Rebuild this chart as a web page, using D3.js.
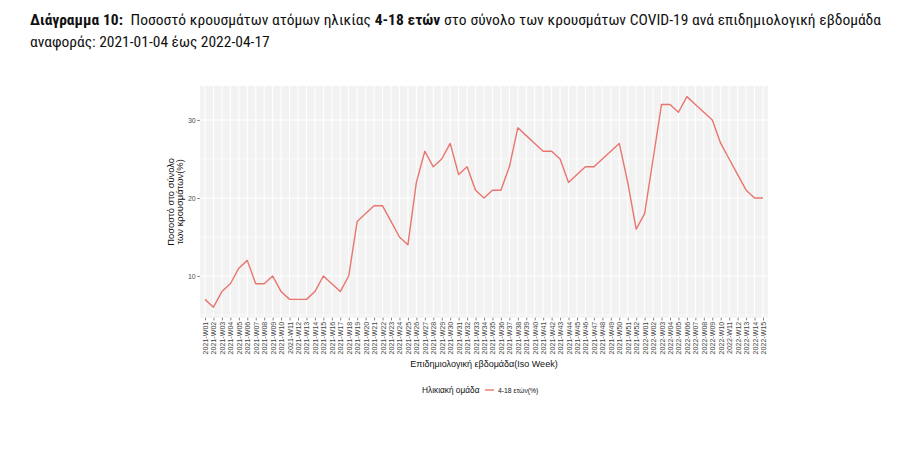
<!DOCTYPE html>
<html><head><meta charset="utf-8">
<script src="https://cdn.jsdelivr.net/npm/d3@7"></script>
<style>
body{margin:0;background:#fff;}
#title{position:absolute;left:30px;top:9px;width:851px;font-family:"Liberation Sans Narrow","Roboto Condensed",Roboto,sans-serif;font-size:15.5px;line-height:22px;text-align:justify;color:#111;}
svg{position:absolute;left:0;top:0;}
</style></head>
<body>
<svg id="chart" width="911" height="451"></svg>
<div id="title"><b>Διάγραμμα 10:</b>&nbsp; Ποσοστό κρουσμάτων ατόμων ηλικίας <b>4-18 ετών</b> στο σύνολο των κρουσμάτων COVID-19 ανά επιδημιολογική εβδομάδα αναφοράς: 2021-01-04 έως 2022-04-17</div>
<script>
const weeks2021 = d3.range(1,53).map(i=>"2021-W"+String(i).padStart(2,"0"));
const weeks2022 = d3.range(1,16).map(i=>"2022-W"+String(i).padStart(2,"0"));
const weeks = weeks2021.concat(weeks2022);
const values = [7,6,8,9,11,12,9,9,10,8,7,7,7,8,10,9,8,10,17,18,19,19,17,15,14,22,26,24,25,27,23,24,21,20,21,21,24,29,28,27,26,26,25,22,23,24,24,25,26,27,22,16,
                18,25,32,32,31,33,32,31,30,27,25,23,21,20,20];
const yTicks = [10,20,30];
const yMinor = [5,15,25];
const seriesName = "4-18 ετών(%)";
const legendTitle = "Ηλικιακή ομάδα";
const yTitle = ["Ποσοστό στο σύνολο","των κρουσμάτων(%)"];
const xTitle = "Επιδημιολογική εβδομάδα(Iso Week)";

(function(){
const svg = d3.select("#chart");
const font = "'Liberation Sans',Arial,sans-serif";
const pL=199.9, pR=768.1, pT=86.1, pB=317.7;
const x = d3.scalePoint().domain(weeks).range([205,763]);
const y = d3.scaleLinear().domain([4.65,34.35]).range([pB,pT]);

svg.append("rect").attr("x",pL).attr("y",pT).attr("width",pR-pL).attr("height",pB-pT).attr("fill","#F2F2F2");
svg.selectAll(".ymin").data(yMinor).enter().append("line")
  .attr("x1",pL).attr("x2",pR).attr("y1",d=>y(d)).attr("y2",d=>y(d))
  .attr("stroke","#fff").attr("stroke-width",0.6);
svg.selectAll(".ymaj").data(yTicks).enter().append("line")
  .attr("x1",pL).attr("x2",pR).attr("y1",d=>y(d)).attr("y2",d=>y(d))
  .attr("stroke","#fff").attr("stroke-width",1.2);
svg.selectAll(".xmaj").data(weeks).enter().append("line")
  .attr("x1",d=>x(d)).attr("x2",d=>x(d)).attr("y1",pT).attr("y2",pB)
  .attr("stroke","#fff").attr("stroke-width",1.1);

const line = d3.line().x((d,i)=>x(weeks[i])).y(d=>y(d));
svg.append("path").datum(values).attr("d",line).attr("fill","none")
  .attr("stroke","#E8756E").attr("stroke-width",1.4).attr("stroke-linejoin","round");

const yAxis = svg.append("g").attr("transform",`translate(${pL},0)`)
  .call(d3.axisLeft(y).tickValues(yTicks).tickSize(2.7).tickPadding(1.5));
yAxis.select(".domain").remove();
yAxis.selectAll("line").attr("stroke","#333").attr("stroke-width",0.6);
yAxis.selectAll("text").attr("font-family",font).attr("font-size",7).attr("fill","#4D4D4D");

const xAxis = svg.append("g").attr("transform",`translate(0,${pB})`)
  .call(d3.axisBottom(x).tickSize(2.7).tickPadding(0));
xAxis.select(".domain").remove();
xAxis.selectAll("line").attr("stroke","#333").attr("stroke-width",0.6);
xAxis.selectAll("text").attr("font-family",font).attr("font-size",7.1).attr("fill","#444")
  .attr("transform","rotate(-90)").attr("text-anchor","end").attr("dy","0.35em")
  .attr("x",-4).attr("y",0);

svg.append("text").attr("x",484).attr("y",367).attr("text-anchor","middle")
  .attr("font-family",font).attr("font-size",9).attr("fill","#111").text(xTitle);
const yt = svg.append("text").attr("transform",`translate(174,${(pT+pB)/2}) rotate(-90)`)
  .attr("text-anchor","middle").attr("font-family",font).attr("font-size",9.4).attr("fill","#111");
yTitle.forEach((t,i)=>yt.append("tspan").attr("x",0).attr("dy",i?"1.0em":"0").text(t));

const lg = svg.append("g").attr("transform","translate(0,390)");
lg.append("text").attr("x",422).attr("y",3).attr("font-family",font).attr("font-size",8.3).attr("fill","#111").text(legendTitle);
lg.append("line").attr("x1",485).attr("x2",494).attr("y1",0).attr("y2",0).attr("stroke","#E8756E").attr("stroke-width",1.4);
lg.append("text").attr("x",498).attr("y",2.5).attr("font-family",font).attr("font-size",6.8).attr("fill","#111").text(seriesName);
})();
</script>
</body></html>
